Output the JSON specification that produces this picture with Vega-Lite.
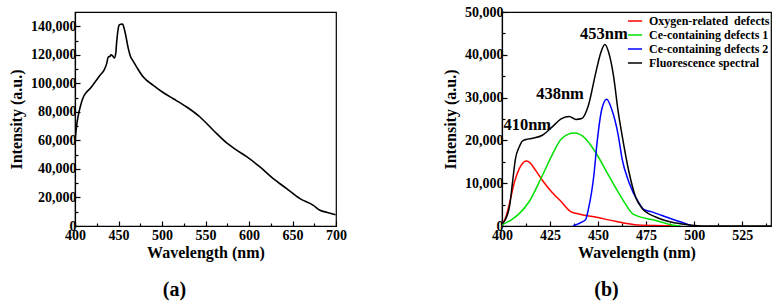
{
  "$schema": "https://vega.github.io/schema/vega-lite/v6.json",
  "padding": {"left": 7, "top": 4, "right": 5, "bottom": 5},
  "background": "white",
  "spacing": 166,
  "bounds": "flush",
  "resolve": {"legend": {"color": "independent"}},
  "config": {
    "font": "Liberation Serif",
    "view": {"stroke": "#000", "strokeWidth": 1.2},
    "axis": {
      "domainColor": "#000",
      "domainWidth": 1.2,
      "tickColor": "#000",
      "tickWidth": 1.2,
      "grid": false,
      "labelFont": "Liberation Serif",
      "labelFontWeight": "bold",
      "labelFontSize": 14,
      "labelColor": "#000",
      "labelOverlap": false,
      "titleFont": "Liberation Serif",
      "titleFontWeight": "bold",
      "titleFontSize": 16,
      "titleColor": "#000"
    },
    "title": {"font": "Liberation Serif", "fontWeight": "bold", "fontSize": 20, "color": "#000"}
  },
  "datasets": {
    "spectrum": [
      {"wl": 400, "intensity": 59000},
      {"wl": 401.9, "intensity": 70600},
      {"wl": 403.8, "intensity": 77600},
      {"wl": 406.5, "intensity": 84600},
      {"wl": 409.6, "intensity": 90400},
      {"wl": 413.4, "intensity": 93900},
      {"wl": 417.2, "intensity": 96200},
      {"wl": 423, "intensity": 100900},
      {"wl": 428.7, "intensity": 105600},
      {"wl": 433.3, "intensity": 109100},
      {"wl": 436.4, "intensity": 113800},
      {"wl": 438.3, "intensity": 118500},
      {"wl": 440.2, "intensity": 118900},
      {"wl": 441.3, "intensity": 120000},
      {"wl": 443.3, "intensity": 119200},
      {"wl": 445.2, "intensity": 117800},
      {"wl": 446.8, "intensity": 120800},
      {"wl": 447.9, "intensity": 129000},
      {"wl": 449.4, "intensity": 137200},
      {"wl": 450.6, "intensity": 140700},
      {"wl": 452.5, "intensity": 141400},
      {"wl": 454.8, "intensity": 141600},
      {"wl": 456, "intensity": 139500},
      {"wl": 457.5, "intensity": 136000},
      {"wl": 459.4, "intensity": 130200},
      {"wl": 461.3, "intensity": 124300},
      {"wl": 464, "intensity": 118500},
      {"wl": 466.3, "intensity": 116100},
      {"wl": 470.9, "intensity": 111400},
      {"wl": 478.5, "intensity": 104400},
      {"wl": 490, "intensity": 98600},
      {"wl": 503.4, "intensity": 92700},
      {"wl": 513, "intensity": 89200},
      {"wl": 528.4, "intensity": 83400},
      {"wl": 543.7, "intensity": 76400},
      {"wl": 559, "intensity": 67100},
      {"wl": 574.4, "intensity": 58200},
      {"wl": 585, "intensity": 53500},
      {"wl": 597.3, "intensity": 48600},
      {"wl": 612.6, "intensity": 41400},
      {"wl": 627.9, "intensity": 33200},
      {"wl": 643.3, "intensity": 26200},
      {"wl": 658.6, "intensity": 19200},
      {"wl": 674, "intensity": 14500},
      {"wl": 681.6, "intensity": 11000},
      {"wl": 690, "intensity": 9500},
      {"wl": 699.5, "intensity": 7900}
    ],
    "components": [
      {"series": "Oxygen-related\u00a0 defects", "wl": 400, "intensity": 400},
      {"series": "Oxygen-related\u00a0 defects", "wl": 402, "intensity": 2100},
      {"series": "Oxygen-related\u00a0 defects", "wl": 404, "intensity": 5500},
      {"series": "Oxygen-related\u00a0 defects", "wl": 406.5, "intensity": 10300},
      {"series": "Oxygen-related\u00a0 defects", "wl": 409, "intensity": 13400},
      {"series": "Oxygen-related\u00a0 defects", "wl": 411, "intensity": 14800},
      {"series": "Oxygen-related\u00a0 defects", "wl": 412.5, "intensity": 15200},
      {"series": "Oxygen-related\u00a0 defects", "wl": 414, "intensity": 15000},
      {"series": "Oxygen-related\u00a0 defects", "wl": 417.5, "intensity": 13000},
      {"series": "Oxygen-related\u00a0 defects", "wl": 421, "intensity": 10700},
      {"series": "Oxygen-related\u00a0 defects", "wl": 426, "intensity": 7900},
      {"series": "Oxygen-related\u00a0 defects", "wl": 431, "intensity": 5600},
      {"series": "Oxygen-related\u00a0 defects", "wl": 436, "intensity": 3300},
      {"series": "Oxygen-related\u00a0 defects", "wl": 440, "intensity": 2800},
      {"series": "Oxygen-related\u00a0 defects", "wl": 448.5, "intensity": 2100},
      {"series": "Oxygen-related\u00a0 defects", "wl": 459, "intensity": 1100},
      {"series": "Oxygen-related\u00a0 defects", "wl": 469, "intensity": 300},
      {"series": "Oxygen-related\u00a0 defects", "wl": 480, "intensity": 100},
      {"series": "Oxygen-related\u00a0 defects", "wl": 490, "intensity": 0},
      {"series": "Ce-containing defects 1", "wl": 400, "intensity": 300},
      {"series": "Ce-containing defects 1", "wl": 405, "intensity": 1500},
      {"series": "Ce-containing defects 1", "wl": 409, "intensity": 2900},
      {"series": "Ce-containing defects 1", "wl": 414, "intensity": 5600},
      {"series": "Ce-containing defects 1", "wl": 421, "intensity": 11800},
      {"series": "Ce-containing defects 1", "wl": 426, "intensity": 16500},
      {"series": "Ce-containing defects 1", "wl": 431, "intensity": 20400},
      {"series": "Ce-containing defects 1", "wl": 437.5, "intensity": 21700},
      {"series": "Ce-containing defects 1", "wl": 443.5, "intensity": 20400},
      {"series": "Ce-containing defects 1", "wl": 446, "intensity": 19000},
      {"series": "Ce-containing defects 1", "wl": 449, "intensity": 17000},
      {"series": "Ce-containing defects 1", "wl": 455.5, "intensity": 11800},
      {"series": "Ce-containing defects 1", "wl": 462.5, "intensity": 6400},
      {"series": "Ce-containing defects 1", "wl": 468.5, "intensity": 2700},
      {"series": "Ce-containing defects 1", "wl": 480, "intensity": 1300},
      {"series": "Ce-containing defects 1", "wl": 490, "intensity": 100},
      {"series": "Ce-containing defects 1", "wl": 493, "intensity": 0},
      {"series": "Ce-containing defects 2", "wl": 437, "intensity": 0},
      {"series": "Ce-containing defects 2", "wl": 441.5, "intensity": 900},
      {"series": "Ce-containing defects 2", "wl": 443.5, "intensity": 1500},
      {"series": "Ce-containing defects 2", "wl": 445, "intensity": 4000},
      {"series": "Ce-containing defects 2", "wl": 447.8, "intensity": 11800},
      {"series": "Ce-containing defects 2", "wl": 449.5, "intensity": 19600},
      {"series": "Ce-containing defects 2", "wl": 452, "intensity": 27400},
      {"series": "Ce-containing defects 2", "wl": 454.5, "intensity": 29600},
      {"series": "Ce-containing defects 2", "wl": 457, "intensity": 27400},
      {"series": "Ce-containing defects 2", "wl": 460.5, "intensity": 21200},
      {"series": "Ce-containing defects 2", "wl": 462.5, "intensity": 15700},
      {"series": "Ce-containing defects 2", "wl": 466, "intensity": 10300},
      {"series": "Ce-containing defects 2", "wl": 471, "intensity": 5600},
      {"series": "Ce-containing defects 2", "wl": 474, "intensity": 3800},
      {"series": "Ce-containing defects 2", "wl": 478, "intensity": 3300},
      {"series": "Ce-containing defects 2", "wl": 483, "intensity": 2500},
      {"series": "Ce-containing defects 2", "wl": 488, "intensity": 1700},
      {"series": "Ce-containing defects 2", "wl": 494, "intensity": 800},
      {"series": "Ce-containing defects 2", "wl": 497, "intensity": 300},
      {"series": "Ce-containing defects 2", "wl": 499, "intensity": 0},
      {"series": "Fluorescence spectral", "wl": 400, "intensity": 500},
      {"series": "Fluorescence spectral", "wl": 402, "intensity": 1700},
      {"series": "Fluorescence spectral", "wl": 404, "intensity": 4800},
      {"series": "Fluorescence spectral", "wl": 405.5, "intensity": 10300},
      {"series": "Fluorescence spectral", "wl": 407, "intensity": 15700},
      {"series": "Fluorescence spectral", "wl": 409, "intensity": 18500},
      {"series": "Fluorescence spectral", "wl": 410.5, "intensity": 19800},
      {"series": "Fluorescence spectral", "wl": 412.5, "intensity": 20200},
      {"series": "Fluorescence spectral", "wl": 416, "intensity": 20500},
      {"series": "Fluorescence spectral", "wl": 421, "intensity": 21200},
      {"series": "Fluorescence spectral", "wl": 426, "intensity": 23100},
      {"series": "Fluorescence spectral", "wl": 431, "intensity": 25100},
      {"series": "Fluorescence spectral", "wl": 435, "intensity": 25600},
      {"series": "Fluorescence spectral", "wl": 438.5, "intensity": 24900},
      {"series": "Fluorescence spectral", "wl": 441.5, "intensity": 25100},
      {"series": "Fluorescence spectral", "wl": 445, "intensity": 28200},
      {"series": "Fluorescence spectral", "wl": 448.5, "intensity": 35200},
      {"series": "Fluorescence spectral", "wl": 451.5, "intensity": 40600},
      {"series": "Fluorescence spectral", "wl": 453.5, "intensity": 42400},
      {"series": "Fluorescence spectral", "wl": 455.5, "intensity": 40600},
      {"series": "Fluorescence spectral", "wl": 458, "intensity": 35200},
      {"series": "Fluorescence spectral", "wl": 460.5, "intensity": 26600},
      {"series": "Fluorescence spectral", "wl": 462.5, "intensity": 21200},
      {"series": "Fluorescence spectral", "wl": 466, "intensity": 12800},
      {"series": "Fluorescence spectral", "wl": 469.5, "intensity": 6800},
      {"series": "Fluorescence spectral", "wl": 473, "intensity": 4100},
      {"series": "Fluorescence spectral", "wl": 480, "intensity": 2100},
      {"series": "Fluorescence spectral", "wl": 488, "intensity": 930},
      {"series": "Fluorescence spectral", "wl": 497, "intensity": 300},
      {"series": "Fluorescence spectral", "wl": 505, "intensity": 0},
      {"series": "Fluorescence spectral", "wl": 540, "intensity": 0}
    ],
    "peaks": [
      {"label": "410nm", "wl": 410, "intensity": 23600},
      {"label": "438nm", "wl": 438, "intensity": 30840},
      {"label": "453nm", "wl": 453, "intensity": 44860}
    ]
  },
  "hconcat": [
    {
      "width": 261,
      "height": 214,
      "title": {"text": "(a)", "orient": "bottom", "anchor": "middle", "offset": 20, "dx": -31},
      "data": {"name": "spectrum"},
      "resolve": {"axis": {"x": "independent", "y": "independent"}},
      "layer": [
        {
          "mark": {"type": "line", "color": "#000", "strokeWidth": 1.6, "interpolate": "monotone", "clip": true},
          "encoding": {
            "x": {"field": "wl", "type": "quantitative",
                  "scale": {"domain": [400, 700], "nice": false, "zero": false},
                  "axis": {"orient": "bottom", "title": "Wavelength (nm)", "values": [400, 450, 500, 550, 600, 650, 700], "tickSize": -5, "labelPadding": 7, "titlePadding": 2, "labelFlush": false}},
            "y": {"field": "intensity", "type": "quantitative",
                  "scale": {"domain": [0, 150000], "nice": false},
                  "axis": {"orient": "left", "title": "Intensity (a.u.)", "values": [0, 20000, 40000, 60000, 80000, 100000, 120000, 140000], "labelExpr": "format(datum.value, ',')", "tickSize": -5, "labelPadding": 4, "titlePadding": 6}}
          }
        },
        {
          "mark": {"type": "line", "strokeOpacity": 0},
          "encoding": {
            "x": {"field": "wl", "type": "quantitative",
                  "scale": {"domain": [400, 700], "nice": false, "zero": false},
                  "axis": {"orient": "bottom", "title": null, "labels": false, "domain": false, "values": [425, 475, 525, 575, 625, 675], "tickSize": -3}},
            "y": {"field": "intensity", "type": "quantitative",
                  "scale": {"domain": [0, 150000], "nice": false},
                  "axis": {"orient": "left", "title": null, "labels": false, "domain": false, "values": [10000, 30000, 50000, 70000, 90000, 110000, 130000], "tickSize": -3}}
          }
        }
      ]
    },
    {
      "width": 269,
      "height": 214,
      "title": {"text": "(b)", "orient": "bottom", "anchor": "middle", "offset": 20, "dx": -30},
      "resolve": {"axis": {"x": "independent", "y": "independent"}},
      "layer": [
        {
          "data": {"name": "components"},
          "mark": {"type": "line", "strokeWidth": 1.5, "interpolate": "monotone", "clip": true},
          "encoding": {
            "x": {"field": "wl", "type": "quantitative",
                  "scale": {"domain": [400, 540], "nice": false, "zero": false},
                  "axis": {"orient": "bottom", "title": "Wavelength (nm)", "values": [400, 425, 450, 475, 500, 525], "tickSize": -5, "labelPadding": 7, "titlePadding": 2, "labelFlush": false}},
            "y": {"field": "intensity", "type": "quantitative",
                  "scale": {"domain": [0, 50000], "nice": false},
                  "axis": {"orient": "left", "title": "Intensity (a.u.)", "values": [0, 10000, 20000, 30000, 40000, 50000], "labelExpr": "format(datum.value, ',')", "tickSize": -5, "labelPadding": 4, "titlePadding": 6}},
            "color": {"field": "series", "type": "nominal",
                      "scale": {"domain": ["Oxygen-related\u00a0 defects", "Ce-containing defects 1", "Ce-containing defects 2", "Fluorescence spectral"],
                                "range": ["#ff0000", "#00e000", "#0000ff", "#000000"]},
                      "legend": {"title": null, "orient": "top-right", "offset": 1, "padding": 0,
                                 "symbolType": "stroke", "symbolSize": 200, "symbolStrokeWidth": 1.5,
                                 "labelFont": "Liberation Serif", "labelFontWeight": "bold", "labelFontSize": 12, "labelColor": "#000",
                                 "labelLimit": 300, "rowPadding": 0, "labelOffset": 6}},
            "order": {"field": "wl", "type": "quantitative"}
          }
        },
        {
          "data": {"name": "peaks"},
          "transform": [{"filter": "datum.label == '410nm'"}],
          "mark": {"type": "text", "font": "Liberation Serif", "fontWeight": "bold", "fontSize": 16.5, "color": "#000", "align": "center", "baseline": "middle", "dx": 6},
          "encoding": {
            "x": {"field": "wl", "type": "quantitative", "scale": {"domain": [400, 540], "nice": false, "zero": false}, "axis": null},
            "y": {"field": "intensity", "type": "quantitative", "scale": {"domain": [0, 50000], "nice": false}, "axis": null},
            "text": {"field": "label"}
          }
        },
        {
          "data": {"name": "peaks"},
          "transform": [{"filter": "datum.label == '438nm'"}],
          "mark": {"type": "text", "font": "Liberation Serif", "fontWeight": "bold", "fontSize": 16.5, "color": "#000", "align": "center", "baseline": "middle", "dx": -15},
          "encoding": {
            "x": {"field": "wl", "type": "quantitative", "scale": {"domain": [400, 540], "nice": false, "zero": false}, "axis": null},
            "y": {"field": "intensity", "type": "quantitative", "scale": {"domain": [0, 50000], "nice": false}, "axis": null},
            "text": {"field": "label"}
          }
        },
        {
          "data": {"name": "peaks"},
          "transform": [{"filter": "datum.label == '453nm'"}],
          "mark": {"type": "text", "font": "Liberation Serif", "fontWeight": "bold", "fontSize": 16.5, "color": "#000", "align": "center", "baseline": "middle"},
          "encoding": {
            "x": {"field": "wl", "type": "quantitative", "scale": {"domain": [400, 540], "nice": false, "zero": false}, "axis": null},
            "y": {"field": "intensity", "type": "quantitative", "scale": {"domain": [0, 50000], "nice": false}, "axis": null},
            "text": {"field": "label"}
          }
        },
        {
          "data": {"name": "components"},
          "mark": {"type": "line", "strokeOpacity": 0},
          "encoding": {
            "x": {"field": "wl", "type": "quantitative",
                  "scale": {"domain": [400, 540], "nice": false, "zero": false},
                  "axis": {"orient": "bottom", "title": null, "labels": false, "domain": false, "values": [412.5, 437.5, 462.5, 487.5, 512.5, 537.5], "tickSize": -3}},
            "y": {"field": "intensity", "type": "quantitative",
                  "scale": {"domain": [0, 50000], "nice": false},
                  "axis": {"orient": "left", "title": null, "labels": false, "domain": false, "values": [5000, 15000, 25000, 35000, 45000], "tickSize": -3}}
          }
        }
      ]
    }
  ]
}
